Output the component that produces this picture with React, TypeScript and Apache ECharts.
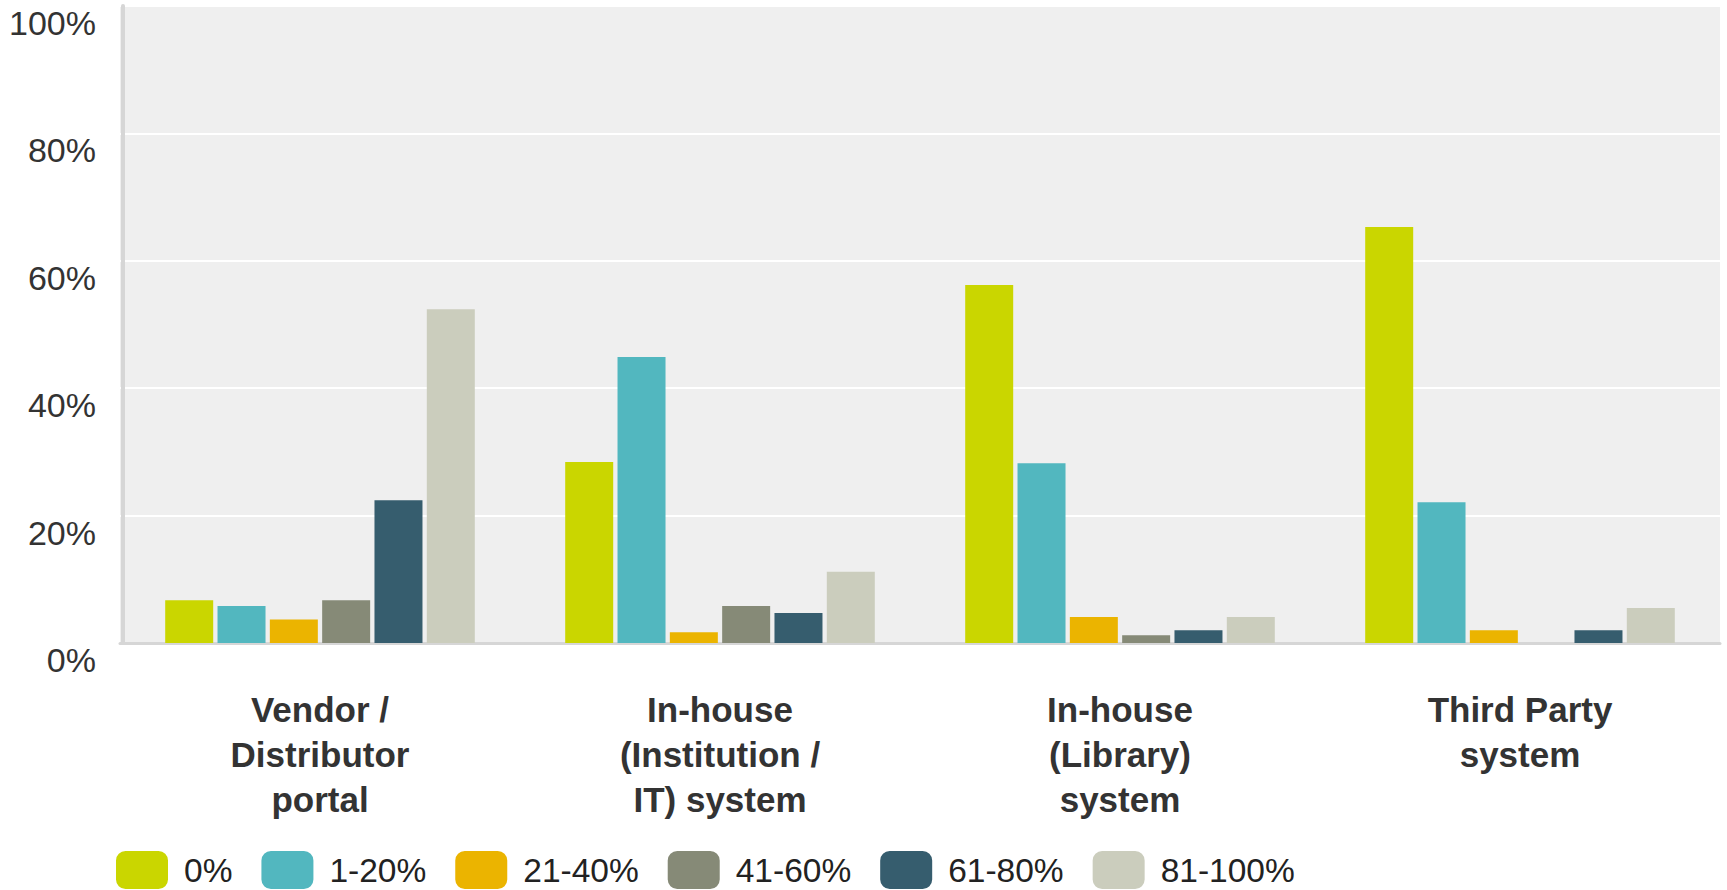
import React, { useEffect, useRef } from "react";
import * as echarts from "echarts";

const categories = [
  "Vendor /\nDistributor\nportal",
  "In-house\n(Institution /\nIT) system",
  "In-house\n(Library)\nsystem",
  "Third Party\nsystem",
];
const seriesNames = ["0%", "1-20%", "21-40%", "41-60%", "61-80%", "81-100%"];
const v0 = [6.7, 28.4, 56.2, 65.3];
const v1_20 = [5.8, 44.9, 28.2, 22.1];
const v21_40 = [3.7, 1.7, 4.1, 2.0];
const v41_60 = [6.7, 5.8, 1.2, 0];
const v61_80 = [22.4, 4.7, 2.0, 2.0];
const v81_100 = [52.4, 11.2, 4.1, 5.5];
const seriesValues = [v0, v1_20, v21_40, v41_60, v61_80, v81_100];
const colors = ["#cad600", "#52b7bf", "#ebb400", "#868a77", "#365d6e", "#cbcdbd"];
const yTicks = [0, 20, 40, 60, 80, 100];

const FONT = "'Liberation Sans', Arial, Helvetica, sans-serif";

export default function App() {
  const ref = useRef<HTMLDivElement>(null);
  useEffect(() => {
    if (!ref.current) return;
    const chart = echarts.init(ref.current, undefined, { renderer: "svg" });
    chart.setOption({
      animation: false,
      color: colors,
      textStyle: { fontFamily: FONT },
      grid: {
        left: 120,
        right: 7,
        top: 6,
        bottom: 247,
        show: true,
        backgroundColor: "#efefef",
        borderWidth: 0,
      },
      legend: {
        data: seriesNames,
        left: 111,
        top: 846,
        itemWidth: 52,
        itemHeight: 38,
        itemGap: 29,
        icon: "roundRect",
        textStyle: {
          fontFamily: FONT,
          fontSize: 33.5,
          lineHeight: 34,
          color: "#222",
          padding: [0, 0, 0, 11],
        },
      },
      xAxis: {
        type: "category",
        data: categories,
        axisTick: { show: false },
        axisLine: { show: true, lineStyle: { color: "#d6d6d6", width: 3 } },
        axisLabel: {
          interval: 0,
          fontFamily: FONT,
          fontSize: 35,
          fontWeight: "bold",
          lineHeight: 45,
          margin: 44,
          color: "#333",
        },
      },
      yAxis: {
        type: "value",
        min: yTicks[0],
        max: yTicks[yTicks.length - 1],
        interval: 20,
        offset: -3,
        axisLine: { show: true, lineStyle: { color: "#d6d6d6", width: 4 } },
        axisTick: { show: false },
        splitLine: { show: true, lineStyle: { color: "#ffffff", width: 2 } },
        axisLabel: {
          formatter: "{value}%",
          fontFamily: FONT,
          fontSize: 34,
          color: "#333",
          margin: 27,
          verticalAlign: "top",
        },
      },
      series: seriesNames.map((name, i) => ({
        name,
        type: "bar",
        data: seriesValues[i],
        barWidth: 48,
        barGap: "9%",
        itemStyle: { color: colors[i] },
      })),
    });
    return () => chart.dispose();
  }, []);
  return (
    <div
      ref={ref}
      style={{ position: "fixed", left: 0, top: 0, width: 1727, height: 890, background: "#fff" }}
    />
  );
}
